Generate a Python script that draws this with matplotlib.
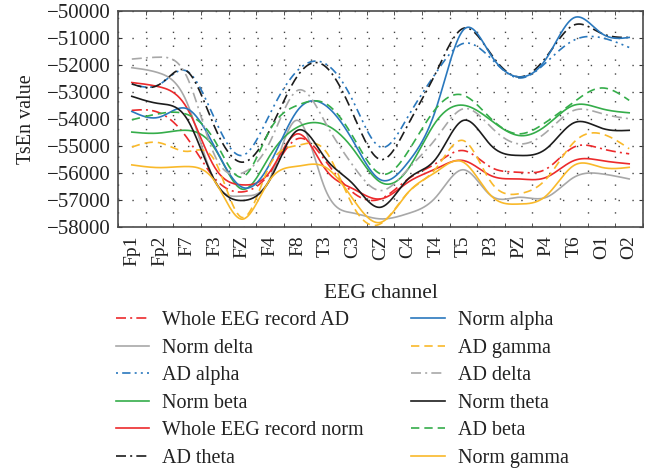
import numpy as np
import matplotlib
matplotlib.use("Agg")
import matplotlib.pyplot as plt

plt.rcParams['font.family'] = ['Liberation Serif', 'DejaVu Serif']

channels = ["Fp1", "Fp2", "F7", "F3", "FZ", "F4", "F8", "T3", "C3", "CZ",
            "C4", "T4", "T5", "P3", "PZ", "P4", "T6", "O1", "O2"]

# TsEn values, one per channel
whole_ad = [-53680, -53770, -54700, -56200, -56700, -56000, -54730, -55540, -56720, -56960,
            -56220, -55650, -55170, -55790, -55970, -55850, -55040, -55100, -55290]
norm_delta = [-52100, -52300, -53400, -56300, -56850, -56200, -54050, -56600, -57480, -57700,
              -57500, -56900, -55880, -56840, -56900, -56900, -56160, -56030, -56220]
ad_alpha = [-52700, -52720, -52230, -54000, -55350, -53800, -52200, -51950, -53320, -55040,
            -53900, -52300, -51200, -51760, -52480, -51900, -51080, -50990, -51350]
norm_beta = [-54485, -54520, -54420, -55090, -56600, -55350, -54300, -54210, -55100, -56340,
             -55850, -54110, -53490, -54050, -54610, -54240, -53490, -53620, -53770]
whole_norm = [-52650, -52810, -53600, -55790, -56440, -55950, -54550, -55850, -56580, -56960,
              -56340, -55850, -55540, -56100, -56220, -56160, -55540, -55540, -55660]
ad_theta = [-52700, -52720, -52230, -54300, -55600, -54400, -52400, -52050, -53800, -55500,
            -54200, -52300, -50640, -51600, -52440, -51700, -50520, -50830, -50980]
norm_alpha = [-53720, -53930, -53620, -55040, -56530, -55650, -53680, -53490, -54800, -56250,
              -55600, -53650, -50700, -51640, -52440, -51760, -50250, -50830, -50980]
ad_gamma = [-55040, -54880, -55200, -55540, -57650, -55700, -54980, -55170, -57210, -57880,
            -56720, -55840, -54800, -56340, -56770, -56220, -54860, -54550, -55100]
ad_delta = [-51780, -51710, -52450, -55350, -56000, -54850, -52940, -54130, -55720, -56650,
            -55850, -54730, -53620, -54300, -54920, -54490, -53680, -53800, -53990]
norm_theta = [-53160, -53430, -54000, -56280, -57020, -56250, -54420, -55450, -56400, -57270,
              -56220, -55480, -54050, -54980, -55350, -55100, -54140, -54340, -54420]
ad_beta = [-54030, -53800, -53830, -54800, -56150, -54400, -53490, -53420, -54650, -56030,
           -55200, -53620, -53120, -53990, -54550, -54110, -53370, -52850, -53310]
norm_gamma = [-55700, -55800, -55760, -56300, -57710, -56250, -55750, -55780, -56960, -57830,
              -56720, -55970, -55600, -56840, -57150, -56840, -55720, -55790, -55790]

blue = "#2a78bd"
red = "#ec2a2c"
green = "#35ad4a"
yellow = "#f9b92a"
gray = "#a8a8a8"
black = "#1c1c1c"
dashdot = (0, (6, 2.5, 1.2, 2.5))
dashdotdot = (0, (1.2, 2.5, 5, 2.5, 1.2, 2.5))
dashed = (0, (5, 3))

# (label, values, colour, linestyle) in legend column order
series = [
    ("Whole EEG record AD", whole_ad, red, dashdot),
    ("Norm delta", norm_delta, gray, "-"),
    ("AD alpha", ad_alpha, blue, dashdotdot),
    ("Norm beta", norm_beta, green, "-"),
    ("Whole EEG record norm", whole_norm, red, "-"),
    ("AD theta", ad_theta, black, dashdot),
    ("Norm alpha", norm_alpha, blue, "-"),
    ("AD gamma", ad_gamma, yellow, dashed),
    ("AD delta", ad_delta, gray, dashdot),
    ("Norm theta", norm_theta, black, "-"),
    ("AD beta", ad_beta, green, dashed),
    ("Norm gamma", norm_gamma, yellow, "-"),
]


def smooth(y, n=600):
    # natural cubic spline through the points (unit spacing), for drawing only
    y = np.asarray(y, float)
    m = len(y)
    A = np.zeros((m, m))
    b = np.zeros(m)
    A[0, 0] = A[-1, -1] = 1
    for i in range(1, m - 1):
        A[i, i - 1], A[i, i], A[i, i + 1] = 1, 4, 1
        b[i] = 6 * (y[i + 1] - 2 * y[i] + y[i - 1])
    M = np.linalg.solve(A, b)
    xs = np.linspace(0, m - 1, n)
    k = np.minimum(xs.astype(int), m - 2)
    t = xs - k
    ys = ((1 - t) * y[k] + t * y[k + 1]
          + ((1 - t) ** 3 - (1 - t)) * M[k] / 6 + (t ** 3 - t) * M[k + 1] / 6)
    return xs + 1, ys


fig = plt.figure(figsize=(6.49, 4.70), dpi=100)
ax = fig.add_axes([118 / 649, 1 - 227 / 470, 525 / 649, 216 / 470])

handles = []
for label, vals, col, ls in series:
    xs, ys = smooth(vals)
    h, = ax.plot(xs, ys, color=col, linestyle=ls, linewidth=1.2, label=label)
    handles.append(h)

x = np.arange(1, len(channels) + 1)
ax.set_xlim(0.5, len(channels) + 0.5)
ax.set_ylim(-58000, -50000)
ax.set_yticks(np.arange(-58000, -49999, 1000))
ax.set_xticks(x)
ax.set_xticklabels(channels, rotation=90, fontsize=14, color="#222222")
ax.set_xticks(np.arange(0.5, len(channels) + 1, 1), minor=True)
ax.tick_params(axis="x", which="major", length=0, pad=6)
ax.tick_params(axis="x", which="minor", direction="in", length=3, top=True, color="#333333")
ax.tick_params(axis="y", direction="in", length=3, right=True, labelsize=15,
               labelcolor="#222222", color="#333333", pad=5)
grid_kw = dict(color="#444444", linestyle=(0, (1, 9)), linewidth=1.0)
ax.grid(True, axis="y", which="major", **grid_kw)
ax.grid(True, axis="x", which="minor", **grid_kw)
for sp in ax.spines.values():
    sp.set_color("#4a4a4a")
    sp.set_linewidth(1.2)

ax.set_ylabel("TsEn value", fontsize=14.5, color="#222222", labelpad=8)
ax.set_xlabel("EEG channel", fontsize=15.5, color="#222222", labelpad=13)

fig.legend(handles=handles, loc="upper left", bbox_to_anchor=(116 / 649, 1 - 311 / 470),
           ncol=2, frameon=False, fontsize=14.5, handlelength=1.65, handletextpad=0.65,
           columnspacing=2.35, labelspacing=0.42, borderpad=0, borderaxespad=0,
           labelcolor="#222222")

fig.savefig("out.png", dpi=100)
